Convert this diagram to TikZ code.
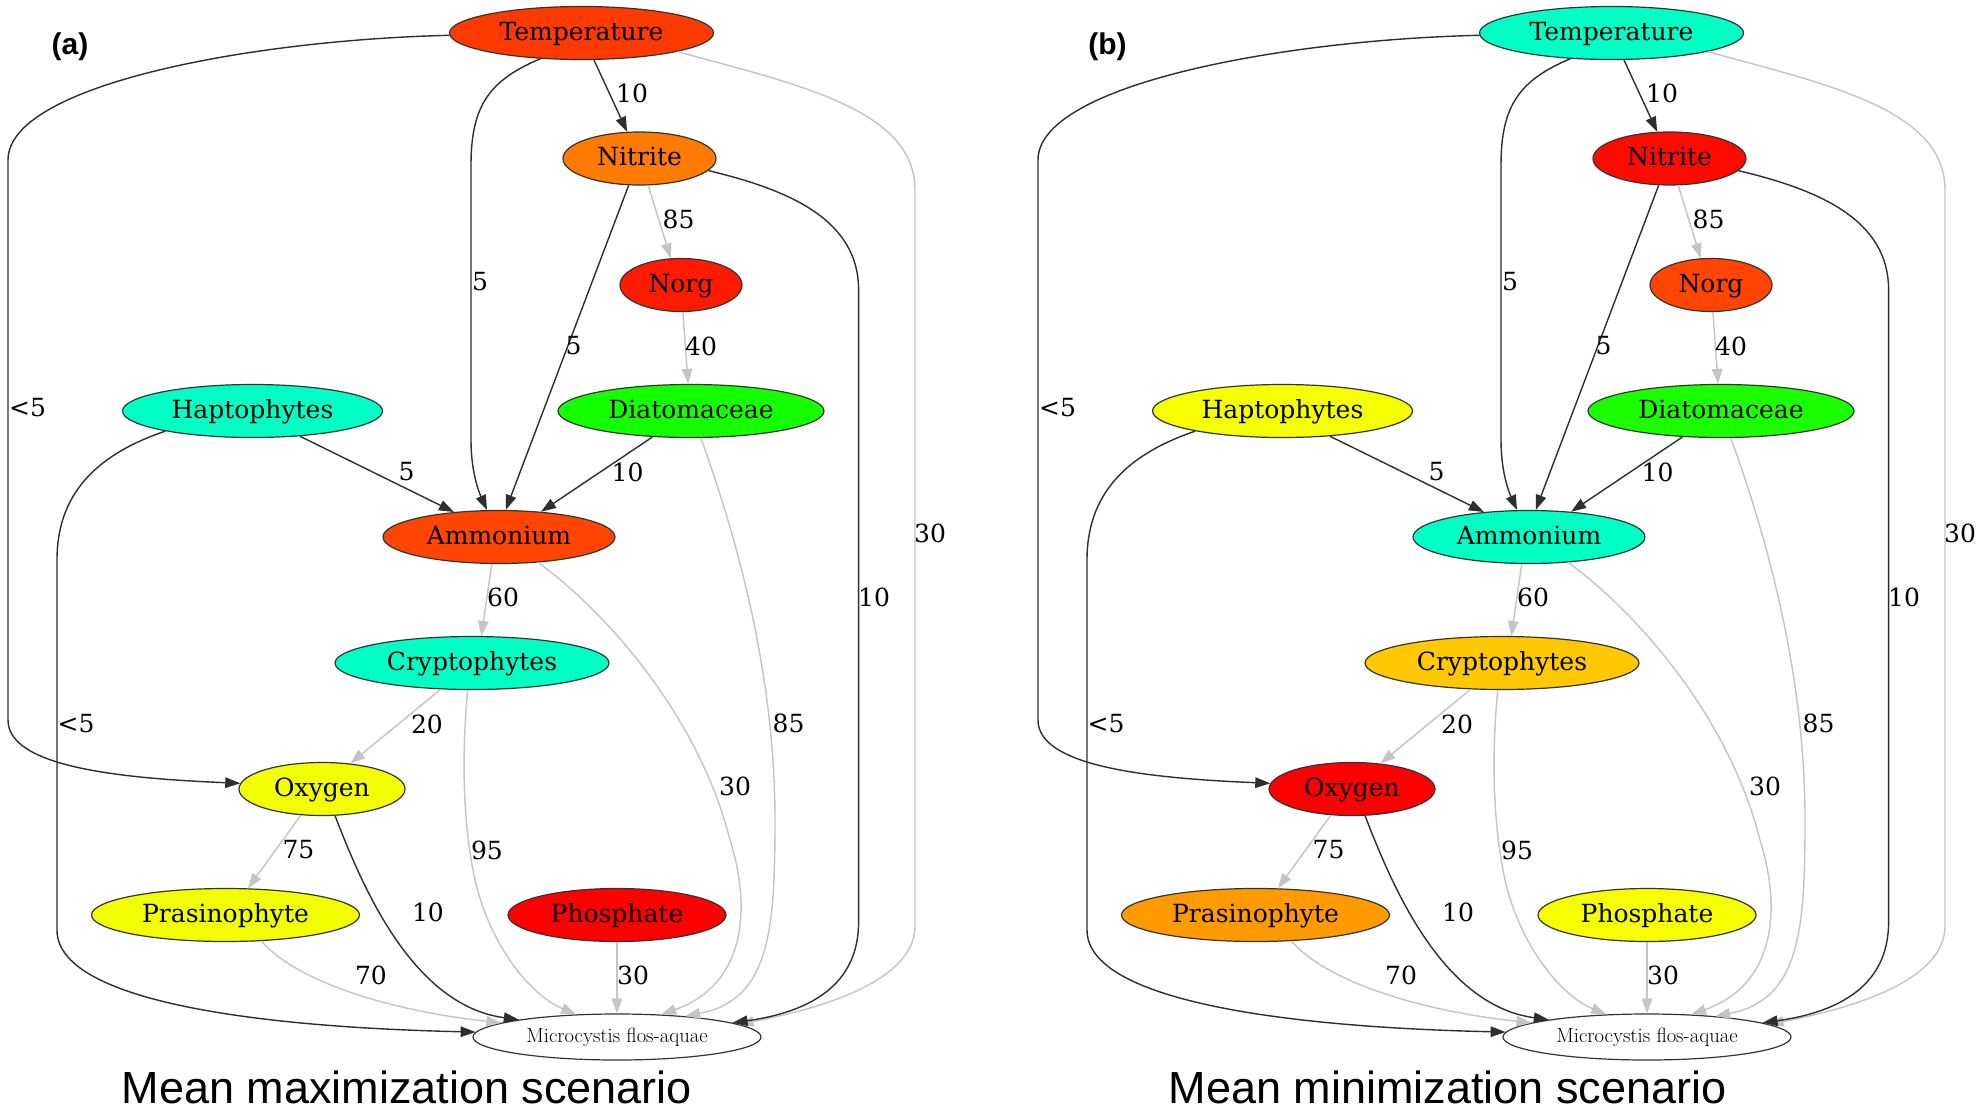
\documentclass[tikz,border=0pt]{standalone}
\usepackage{fontspec}
\usetikzlibrary{shapes.geometric,arrows.meta}
\newfontfamily\djv{DejaVu Serif}
\newfontfamily\ttl{Liberation Sans}
\definecolor{ndline}{HTML}{333333}
\definecolor{dkedge}{HTML}{2E2E2E}
\definecolor{ltedge}{HTML}{C4C4C4}
\tikzset{
  ell/.style={ellipse, draw=ndline, line width=1.2pt, inner sep=0pt, minimum height=53pt},
  nd/.style={ell, font={\djv\fontsize{25pt}{30pt}\selectfont}, text height=18pt, text depth=4pt},
  mic/.style={ell, fill=white, minimum height=46pt, font={\fontsize{20.6pt}{24pt}\selectfont}},
  dk/.style={draw=dkedge, line width=1.4pt, -{Triangle[length=15pt,width=10.5pt]}},
  lt/.style={draw=ltedge, line width=1.4pt, -{Triangle[length=15pt,width=10.5pt]}},
  lab/.style={inner sep=0pt, font={\djv\fontsize{25pt}{30pt}\selectfont}},
  ttlbl/.style={inner sep=0pt, font={\ttl\bfseries\fontsize{30pt}{36pt}\selectfont}},
  ttcap/.style={inner sep=0pt, anchor=base, font={\ttl\fontsize{45pt}{54pt}\selectfont}},
}
\newcommand\drawpanel{%
  \node[nd, fill=cT, minimum width=264pt] (Temp) at (581.5,33) {Temperature};
  \node[nd, fill=cN, minimum width=153pt] (Nit) at (639.5,158.5) {Nitrite};
  \node[nd, fill=cNo, minimum width=122pt] (Norg) at (681,285) {Norg};
  \node[nd, fill=cH, minimum width=260pt] (Hapt) at (252.5,411) {Haptophytes};
  \node[nd, fill=cD, minimum width=266pt] (Diat) at (691,411) {Diatomaceae};
  \node[nd, fill=cA, minimum width=232pt] (Amm) at (499,537) {Ammonium};
  \node[nd, fill=cC, minimum width=274pt] (Cry) at (472,663) {Cryptophytes};
  \node[nd, fill=cO, minimum width=166pt] (Oxy) at (322,789) {Oxygen};
  \node[nd, fill=cP, minimum width=268pt] (Pra) at (225.5,915) {Prasinophyte};
  \node[nd, fill=cPh, minimum width=218pt] (Pho) at (617,915) {Phosphate};
  \node[mic, minimum width=288pt] (Mic) at (617,1037) {Microcystis flos-aquae};
  % edges
  \draw[dk] (Temp) -- (Nit);
  \draw[dk] (Temp.212) .. controls (490,80) and (471,105) .. (471,165) -- (471,440) .. controls (471,470) and (478,490) .. (Amm.114);
  \draw[lt] (Temp.-11) .. controls (800,85) and (915,110) .. (915,190) -- (915,926) .. controls (915,975) and (840,1005) .. (Mic.6);
  \draw[dk] (Temp.181) .. controls (250,40) and (8,85) .. (8,160) -- (8,720) .. controls (8,765) and (110,778) .. (Oxy.176);
  \draw[lt] (Nit.-72) -- (Norg.111);
  \draw[dk] (Nit.248) -- (Amm.76);
  \draw[dk] (Nit.-10) .. controls (790,190) and (858.6,220) .. (858.6,290) -- (858.6,922) .. controls (858.6,985) and (810,1012) .. (Mic.7);
  \draw[lt] (Norg.-86) -- (Diat.96);
  \draw[dk] (Hapt.-28) -- (Amm.151.5);
  \draw[dk] (Hapt.193) .. controls (95,455) and (57,495) .. (57,560) -- (57,930) .. controls (57,1000) and (250,1027) .. (Mic.178);
  \draw[dk] (Diat.214) -- (Amm.31);
  \draw[lt] (Diat.-70) .. controls (745,560) and (775,690) .. (775,820) .. controls (775,930) and (770,1000) .. (Mic.17);
  \draw[lt] (Amm.255.5) -- (Cry.71.6);
  \draw[lt] (Amm.-33) .. controls (610,615) and (700,720) .. (730,840) .. controls (752,910) and (745,985) .. (Mic.27.6);
  \draw[lt] (Cry.220) -- (Oxy.42);
  \draw[lt] (Cry.261.6) .. controls (462,750) and (462,820) .. (475,880) .. controls (490,945) and (530,995) .. (Mic.151.4);
  \draw[lt] (Oxy.231.5) -- (Pra.50.6);
  \draw[dk] (Oxy.-64) .. controls (360,880) and (410,1005) .. (Mic.170);
  \draw[lt] (Pra.-36) .. controls (300,985) and (400,1012) .. (Mic.173);
  \draw[lt] (Pho) -- (Mic);
  % labels
  \node[lab] (l1) at (632,93) {10};
  \node[lab] (l2) at (480,282) {5};
  \node[lab] (l3) at (930,533) {30};
  \node[lab] (l4) at (27.5,408) {<5};
  \node[lab] (l5) at (678.5,219.5) {85};
  \node[lab] (l6) at (573.5,346) {5};
  \node[lab] (l7) at (874,597) {10};
  \node[lab] (l8) at (701,346) {40};
  \node[lab] (l9) at (406.5,472) {5};
  \node[lab] (l10) at (76,724) {<5};
  \node[lab] (l11) at (627.5,472) {10};
  \node[lab] (l12) at (788.5,723.5) {85};
  \node[lab] (l13) at (503,597) {60};
  \node[lab] (l14) at (735,786) {30};
  \node[lab] (l15) at (427,724) {20};
  \node[lab] (l16) at (487,850) {95};
  \node[lab] (l17) at (298.5,850) {75};
  \node[lab] (l18) at (428,912) {10};
  \node[lab] (l19) at (371,975) {70};
  \node[lab] (l20) at (633,975) {30};
}
\begin{document}
\begin{tikzpicture}[x=1pt,y=-1pt]
\fill[white] (0,0) rectangle (1984,1114);
\useasboundingbox (0,0) rectangle (1984,1114);
\begin{scope}[name prefix=a-]
  \definecolor{cT}{HTML}{FF3A00}
  \definecolor{cN}{HTML}{FF7A00}
  \definecolor{cNo}{HTML}{FF1A00}
  \definecolor{cH}{HTML}{00FFC4}
  \definecolor{cD}{HTML}{14FF00}
  \definecolor{cA}{HTML}{FF4500}
  \definecolor{cC}{HTML}{00FFC4}
  \definecolor{cO}{HTML}{F2FF00}
  \definecolor{cP}{HTML}{F2FF00}
  \definecolor{cPh}{HTML}{FF0000}
  \drawpanel
\end{scope}
\begin{scope}[name prefix=b-, shift={(1030,0)}]
  \definecolor{cT}{HTML}{00FFC4}
  \definecolor{cN}{HTML}{FF0A00}
  \definecolor{cNo}{HTML}{FF4500}
  \definecolor{cH}{HTML}{F5FF00}
  \definecolor{cD}{HTML}{1CFF00}
  \definecolor{cA}{HTML}{00FFC4}
  \definecolor{cC}{HTML}{FFC800}
  \definecolor{cO}{HTML}{FF0000}
  \definecolor{cP}{HTML}{FF9A00}
  \definecolor{cPh}{HTML}{F5FF00}
  \drawpanel
\end{scope}
\node[ttlbl] (ta) at (70,47) {(a)};
\node[ttlbl] (tb) at (1107.5,47) {(b)};
\node[ttcap] (ca) at (407,1103) {Mean maximization scenario};
\node[ttcap] (cb) at (1447.5,1103) {Mean minimization scenario};
\end{tikzpicture}
\end{document}
